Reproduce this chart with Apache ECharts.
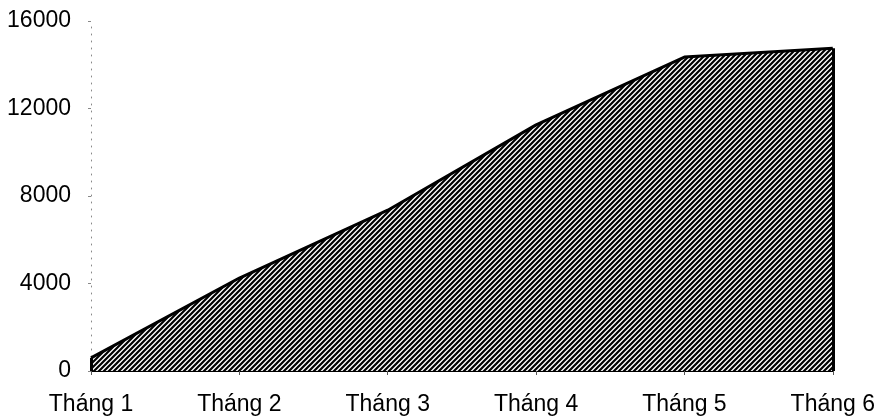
<!DOCTYPE html>
<html>
<head>
<meta charset="utf-8">
<script src="https://cdn.jsdelivr.net/npm/echarts@6/dist/echarts.min.js"></script>
<style>
html,body{margin:0;padding:0;background:#fff;}
#chart{width:878px;height:416px;}
</style>
</head>
<body>
<div id="chart"></div>
<script>
const categories = ['Tháng 1', 'Tháng 2', 'Tháng 3', 'Tháng 4', 'Tháng 5', 'Tháng 6'];
const values = [600, 4250, 7350, 11250, 14350, 14750];
const yTicks = [0, 4000, 8000, 12000, 16000];

function makeHatch() {
  const s = 5;
  const c = document.createElement('canvas');
  c.width = s; c.height = s;
  const ctx = c.getContext('2d');
  ctx.fillStyle = '#ffffff';
  ctx.fillRect(0, 0, s, s);
  ctx.strokeStyle = '#000000';
  ctx.lineWidth = 2.2;
  ctx.beginPath();
  ctx.moveTo(-1, s + 1); ctx.lineTo(s + 1, -1);
  ctx.moveTo(-1, 1); ctx.lineTo(1, -1);
  ctx.moveTo(s - 1, s + 1); ctx.lineTo(s + 1, s - 1);
  ctx.stroke();
  return c;
}

const chart = echarts.init(document.getElementById('chart'));
const font = '"Liberation Sans", Arial, sans-serif';
const last = categories.length - 1;
chart.setOption({
  animation: false,
  grid: { left: 91, right: 44, top: 21, bottom: 45 },
  xAxis: {
    type: 'category',
    data: categories,
    boundaryGap: false,
    axisLine: { lineStyle: { color: '#000', width: 2 } },
    axisTick: { show: true, length: 4, lineStyle: { color: '#555' } },
    axisLabel: { color: '#000', fontSize: 23, fontFamily: font, margin: 22 }
  },
  yAxis: {
    type: 'value',
    min: yTicks[0],
    max: yTicks[yTicks.length - 1],
    interval: yTicks[1] - yTicks[0],
    axisLine: { show: true, lineStyle: { color: '#888', width: 1, type: [1, 6] } },
    axisTick: { show: true, length: 3, lineStyle: { color: '#888' } },
    splitLine: { show: false },
    axisLabel: { color: '#000', fontSize: 23, fontFamily: font, margin: 20, formatter: function (v) { return String(v); } }
  },
  series: [{
    type: 'line',
    data: values,
    showSymbol: false,
    lineStyle: { color: '#000', width: 3 },
    areaStyle: { color: { image: makeHatch(), repeat: 'repeat' }, opacity: 1 },
    markLine: {
      silent: true,
      symbol: ['none', 'none'],
      label: { show: false },
      lineStyle: { color: '#000', width: 3, type: 'solid' },
      data: [
        [{ coord: [categories[0], 0] }, { coord: [categories[0], values[0]] }],
        [{ coord: [categories[last], 0] }, { coord: [categories[last], values[last]] }]
      ]
    }
  }]
});
</script>
</body>
</html>
